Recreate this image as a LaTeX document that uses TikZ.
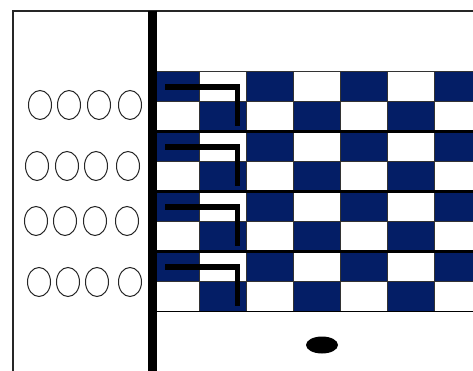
\documentclass[tikz,border=0pt]{standalone}
\definecolor{navy}{RGB}{4,30,102}
\tikzset{
  cellborder/.style={draw=black!80, line width=0.6pt},
  bandline/.style={draw=black, line width=3pt},
  bracketline/.style={draw=black, line width=5.5pt},
  hole/.style={draw=black!85, line width=1pt, fill=white},
}
\begin{document}
\begin{tikzpicture}[x=1pt,y=-1pt]
\useasboundingbox (0,0) rectangle (473,371);
\clip (0,0) rectangle (473,371);
\fill[white] (0,0) rectangle (473,371);
% outer frame
\draw[line width=1.5pt, black!85] (474,11) -- (13,11) -- (13,372);
% checkerboard
\foreach \r in {0,...,7}{
  \foreach \c in {0,...,6}{
    \pgfmathtruncatemacro{\parity}{mod(\r+\c,2)}
    \ifnum\parity=0
      \filldraw[fill=navy, cellborder] (152+47*\c, 71.5+30*\r) rectangle ++(47,30);
    \else
      \filldraw[fill=white, cellborder] (152+47*\c, 71.5+30*\r) rectangle ++(47,30);
    \fi
  }
}
\draw[line width=1pt] (152,311.5) -- (474,311.5);
\foreach \k in {1,2,3}{
  \draw[bandline] (152,71.5+60*\k) -- (474,71.5+60*\k);
}
% brackets
\foreach \k in {0,...,3}{
  \draw[bracketline, line join=miter] (165,87+60*\k) -- (237.5,87+60*\k) -- (237.5,126+60*\k);
}
% thick vertical wall
\draw[line width=9pt] (152.5,11) -- (152.5,372);
% holes
\foreach \y/\xa/\xb/\xc/\xd in {105/40/69/99/130, 166/37/67/96/128, 221/36/65/95/127, 282/39/68/97/130}{
  \foreach \x in {\xa,\xb,\xc,\xd}{
    \draw[hole] (\x,\y) ellipse [x radius=11.5, y radius=14.5];
  }
}
% black dot
\fill[black] (322,345) ellipse [x radius=16, y radius=8.5];
\end{tikzpicture}
\end{document}
